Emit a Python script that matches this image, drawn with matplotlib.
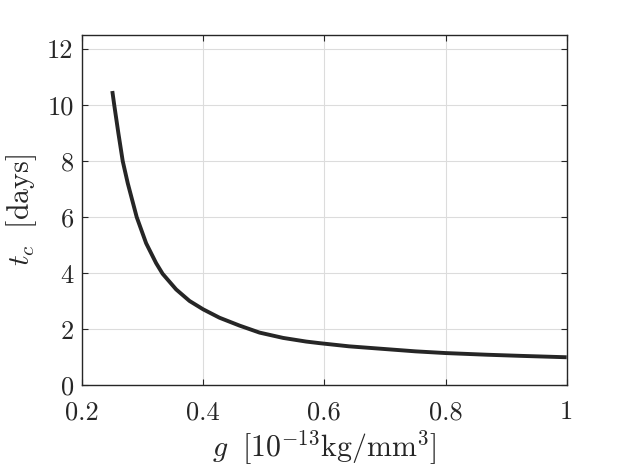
import matplotlib
matplotlib.use("Agg")
import matplotlib.pyplot as plt

# Data
g_vals = [0.25, 0.2532, 0.2600, 0.2672, 0.2755, 0.2903, 0.3058, 0.3223, 0.333,
          0.3554, 0.3774, 0.400, 0.427, 0.46, 0.493, 0.532,
          0.570, 0.5934, 0.6407, 0.6958, 0.751, 0.800, 0.8686, 0.9237, 1.0]
tc_vals = [10.5, 10.0, 9.0, 8.0, 7.21, 6.0, 5.07, 4.36, 3.98,
           3.42, 3.01, 2.71, 2.41, 2.13, 1.88, 1.69,
           1.56, 1.50, 1.39, 1.30, 1.21, 1.15, 1.09, 1.05, 1.00]

x_ticks = [0.2, 0.4, 0.6, 0.8, 1.0]
x_tick_labels = ["0.2", "0.4", "0.6", "0.8", "1"]
y_ticks = [0, 2, 4, 6, 8, 10, 12]
y_tick_labels = ["0", "2", "4", "6", "8", "10", "12"]

plt.rcParams["mathtext.fontset"] = "cm"
plt.rcParams["font.family"] = "serif"
plt.rcParams["font.serif"] = ["cmr10", "DejaVu Serif"]
plt.rcParams["axes.formatter.use_mathtext"] = True

fig = plt.figure(figsize=(6.27, 4.69), dpi=100)
ax = fig.add_axes([0.1308, 0.1785, 0.9038 - 0.1308, 0.9254 - 0.1785])

dark = "#262626"
ax.plot(g_vals, tc_vals, color=dark, lw=2.8, solid_capstyle="butt",
        solid_joinstyle="round")

ax.set_xlim(0.2, 1.0)
ax.set_ylim(0, 12.5)
ax.set_xticks(x_ticks)
ax.set_xticklabels(x_tick_labels)
ax.set_yticks(y_ticks)
ax.set_yticklabels(y_tick_labels)

ax.grid(True, color="#dcdcdc", lw=0.8)
ax.set_axisbelow(True)
for s in ax.spines.values():
    s.set_color(dark)
    s.set_linewidth(1.0)
ax.tick_params(direction="in", length=4, width=0.8, color=dark,
               top=True, right=True, labelsize=19, labelcolor=dark)
ax.tick_params(axis="x", pad=11)
ax.tick_params(axis="y", pad=6)

ax.set_xlabel(r"$g\;\ [10^{-13}\mathrm{kg}/\mathrm{mm}^3]$", fontsize=21.5, color=dark, labelpad=3)
ax.set_ylabel(r"$t_c\;\ [\mathrm{days}]$", fontsize=21.5, color=dark, labelpad=6)

fig.savefig("out.png", dpi=100)
